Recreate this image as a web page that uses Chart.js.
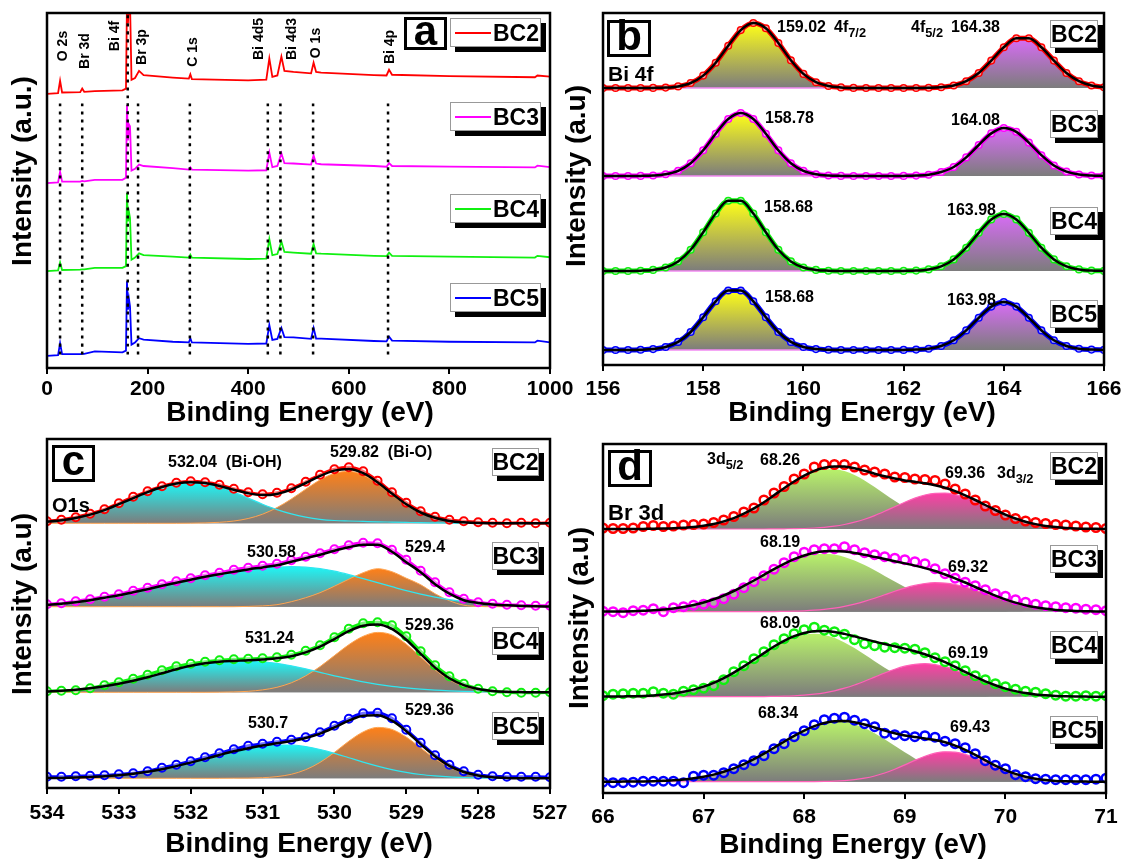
<!DOCTYPE html>
<html>
<head>
<meta charset="utf-8">
<script src="https://cdn.jsdelivr.net/npm/chart.js@4.4.1/dist/chart.umd.min.js"></script>
<style>
  body { margin: 0; background: #fff; }
  #fig { position: relative; width: 1123px; height: 862px; overflow: hidden;
         font-family: "Liberation Sans", Arial, sans-serif; font-weight: bold; color: #000; }
  canvas { position: absolute; }
  .t { position: absolute; white-space: nowrap; line-height: 1; z-index: 5; }
  .c { transform: translate(-50%, -50%); }
  .l { transform: translateY(-50%); }
  .r { transform: translate(-50%, -50%) rotate(-90deg); }
  .box { position: absolute; border: 3px solid #000; box-sizing: border-box; background: #fff;
         display: flex; align-items: center; justify-content: center; z-index: 5; line-height: 1; }
  .leg { position: absolute; background: #fff; border: 1px solid #999; box-sizing: border-box;
         box-shadow: 5px 5px 0 #000; font-size: 23px; z-index: 5; }
  .leg span { position: absolute; top: 50%; transform: translateY(-50%); line-height: 1; }
  .leg i { position: absolute; left: 4px; top: 50%; width: 36px; height: 2px; margin-top: -1px; }
  sub { font-size: 0.8em; vertical-align: -0.4em; line-height: 0; }
</style>
</head>
<body>
<div id="fig"></div>
<script>
// ---------- (a) survey spectra ----------
const surveyEnergy = [0, 22, 26, 30, 66, 70, 74, 95, 150, 157, 159, 161, 163, 165, 168, 175, 183, 192, 250, 282, 285, 288,
  400, 436, 442, 448, 458, 466, 472, 490, 525, 530, 535, 545, 650, 675, 680, 686, 800, 970, 975, 1000];
const surveyBC2 = [0, 0.2, 3.7, 0.4, 0.5, 1.5, 0.6, 0.8, 1.0, 1.5, 26, 20, 26, 26, 4, 4.5, 6.5, 5.3, 4.6, 4.3, 5.5, 4.2,
  3.8, 4, 10, 4.8, 5.2, 10.5, 6.5, 6.2, 5.8, 8.8, 6.2, 6.0, 5.3, 5.2, 6.8, 5.4, 5.0, 4.7, 5.2, 4.9];
const surveyBC3 = [0, 0.2, 3.2, 0.4, 0.4, 0.6, 0.5, 0.9, 0.9, 1.5, 22, 12, 16.5, 16, 3.5, 4, 5.2, 4.8, 4.2, 3.8, 4.4, 3.8,
  3.5, 3.6, 8.6, 4.5, 4.8, 8.4, 5.6, 5.5, 5.2, 7.8, 5.5, 5.3, 4.8, 4.6, 5.6, 4.8, 4.6, 4.4, 4.9, 4.5];
const surveyBC4 = [0, 0.2, 2.4, 0.3, 0.4, 0.5, 0.5, 0.9, 0.9, 1.4, 22, 14, 16.6, 15, 3.2, 3.8, 5, 4.5, 4.1, 3.8, 4.6, 3.8,
  3.4, 3.5, 9, 4.5, 4.8, 8.3, 5.4, 5.2, 4.9, 7.6, 5.0, 4.9, 4.3, 4.2, 5.2, 4.3, 4.1, 3.8, 4.3, 3.9];
const surveyBC5 = [0, 0.2, 3.6, 0.5, 0.5, 0.6, 0.6, 1.3, 1.0, 1.5, 21, 13, 16, 14, 3.2, 3.8, 5, 4.6, 4.0, 3.8, 5.0, 3.8,
  3.4, 3.5, 8.7, 4.5, 4.8, 7.9, 5.3, 5.2, 4.8, 7.9, 4.9, 4.9, 4.2, 4.1, 5.4, 4.3, 4.0, 3.8, 4.3, 3.8];
const surveyPeakEnergy = [26, 70, 160.5, 181, 284, 439, 464, 529, 678];
const surveyPeakNames = ["O 2s", "Br 3d", "Bi 4f", "Br 3p", "C 1s", "Bi 4d5", "Bi 4d3", "O 1s", "Bi 4p"];

// ---------- (b) Bi 4f ----------
const bi4fEnergy = [156, 156.25, 156.5, 156.75, 157, 157.25, 157.5, 157.75, 158, 158.25, 158.5, 158.75, 159, 159.25,
  159.5, 159.75, 160, 160.25, 160.5, 160.75, 161, 161.25, 161.5, 161.75, 162, 162.25, 162.5, 162.75, 163, 163.25,
  163.5, 163.75, 164, 164.25, 164.5, 164.75, 165, 165.25, 165.5, 165.75, 166];
const bc2Bi4f72 = [0, 0, 0, 0, 0.1, 0.4, 1.6, 5.0, 12.4, 25.3, 42.2, 57.9, 65.0, 59.8, 45.0, 27.8, 14.1, 5.8, 2.0, 0.6, 0.1,
  0, 0, 0, 0, 0, 0, 0, 0, 0, 0, 0, 0, 0, 0, 0, 0, 0, 0, 0, 0];
const bc2Bi4f52 = [0, 0, 0, 0, 0, 0, 0, 0, 0, 0, 0, 0, 0, 0, 0, 0, 0, 0, 0, 0, 0, 0, 0, 0, 0, 0,
  0.2, 0.8, 2.5, 6.8, 15.0, 27.4, 40.7, 49.7, 49.7, 40.7, 27.4, 15.0, 6.8, 2.5, 0.8];
const bc3Bi4f72 = [0, 0, 0, 0.1, 0.5, 1.8, 5.2, 12.8, 25.7, 42.3, 57.0, 63.0, 57.0, 42.3, 25.7, 12.8, 5.2, 1.8, 0.5, 0.1,
  0, 0, 0, 0, 0, 0, 0, 0, 0, 0, 0, 0, 0, 0, 0, 0, 0, 0, 0, 0, 0];
const bc3Bi4f52 = [0, 0, 0, 0, 0, 0, 0, 0, 0, 0, 0, 0, 0, 0, 0, 0, 0, 0, 0, 0, 0, 0, 0, 0,
  0.1, 0.4, 1.3, 4.0, 9.0, 18.6, 31.0, 42.6, 48.0, 44.2, 33.4, 20.8, 10.5, 4.4, 1.5, 0.5, 0.1];
const bc4Bi4f72 = [0, 0, 0, 0.3, 1.1, 3.5, 9.6, 21.2, 38.7, 57.5, 70.2, 70.2, 57.5, 38.7, 21.2, 9.6, 3.5, 1.1, 0.3,
  0, 0, 0, 0, 0, 0, 0, 0, 0, 0, 0, 0, 0, 0, 0, 0, 0, 0, 0, 0, 0, 0];
const bc4Bi4f52 = [0, 0, 0, 0, 0, 0, 0, 0, 0, 0, 0, 0, 0, 0, 0, 0, 0, 0, 0, 0, 0, 0, 0, 0,
  0.1, 0.4, 1.6, 4.7, 11.6, 23.3, 38.2, 51.6, 57.0, 51.6, 38.2, 23.3, 11.6, 4.7, 1.6, 0.4, 0.1];
const bc5Bi4f72 = [0, 0, 0, 0.2, 0.9, 3.0, 8.1, 18.0, 32.8, 48.7, 59.5, 59.5, 48.7, 32.8, 18.0, 8.1, 3.0, 0.9, 0.2,
  0, 0, 0, 0, 0, 0, 0, 0, 0, 0, 0, 0, 0, 0, 0, 0, 0, 0, 0, 0, 0, 0];
const bc5Bi4f52 = [0, 0, 0, 0, 0, 0, 0, 0, 0, 0, 0, 0, 0, 0, 0, 0, 0, 0, 0, 0, 0, 0, 0, 0,
  0.1, 0.4, 1.3, 4.0, 9.7, 19.6, 32.2, 43.4, 48.0, 43.4, 32.2, 19.6, 9.7, 4.0, 1.3, 0.4, 0.1];

// ---------- (c) O 1s ----------
const o1sEnergy = [534, 533.8, 533.6, 533.4, 533.2, 533, 532.8, 532.6, 532.4, 532.2, 532, 531.8, 531.6, 531.4, 531.2,
  531, 530.8, 530.6, 530.4, 530.2, 530, 529.8, 529.6, 529.4, 529.2, 529, 528.8, 528.6, 528.4, 528.2, 528, 527.8,
  527.6, 527.4, 527.2, 527];
const bc2BiOH = [1.6, 3.0, 5.3, 8.7, 13.2, 19.1, 25.2, 31.2, 36.3, 39.8, 41.0, 39.8, 36.3, 31.2, 25.2, 19.1, 13.7, 9.4,
  6.2, 4.0, 2.8, 2.3, 1.9, 1.5, 1.2, 0.9, 0.6, 0.4, 0.2, 0.1, 0, 0, 0, 0, 0, 0];
const bc2BiO = [0, 0, 0, 0, 0, 0, 0, 0, 0, 0, 0.1, 0.4, 1.0, 2.3, 4.8, 9.1, 15.7, 24.3, 34.1, 43.4, 49.9, 52.0, 48.2,
  39.5, 28.5, 18.1, 10.2, 5.1, 2.2, 0.9, 0.3, 0.1, 0, 0, 0, 0];
const bc2O1s = [2, 3.5, 6, 9.5, 14, 20, 26.5, 32, 37, 40.5, 42, 41, 38.5, 34.5, 31, 29, 30.5, 35, 41.5, 48.5, 54, 56,
  52, 42.5, 31, 20.5, 12, 6.5, 3.5, 2, 1, 0.5, 0, 0.5, 0, 0.5];
const bc3BiOH = [1.7, 3.0, 4.5, 6.5, 9, 11.5, 14.5, 17.5, 21, 24, 27, 30, 32.5, 35, 37, 38.5, 39.5, 40, 39.5, 38, 35.5,
  32, 28, 24, 20, 16, 12.5, 9.5, 7, 5, 3.5, 2.3, 1.4, 0.8, 0.4, 0.2];
const bc3BiO = [0, 0, 0, 0, 0, 0, 0, 0, 0, 0, 0, 0, 0, 0, 0.3, 0.8, 2, 5, 9, 14, 20.5, 27.5, 34, 38, 35, 28.5, 22, 13,
  6, 1.5, 0.3, 0, 0, 0, 0, 0];
const bc3O1s = [2.5, 3.5, 5.5, 7.5, 10, 12.5, 16, 19, 22.5, 25.5, 28.5, 31.5, 34, 37, 39, 41, 43, 46.5, 50, 53.5, 57.5,
  61.5, 64, 63.5, 57, 47, 36, 24.5, 14.5, 8, 4.5, 3, 2, 1.5, 1, 1];
const bc4BiOH = [0.8, 1.5, 2.5, 4, 6, 8.5, 11.5, 15, 19, 23, 26.5, 29, 30.5, 31, 31, 30.5, 29, 26.5, 23.5, 20, 16.5,
  13.5, 10.5, 8, 6, 4.5, 3.2, 2.2, 1.5, 1, 0.6, 0.3, 0.2, 0.1, 0, 0];
const bc4BiO = [0, 0, 0, 0, 0, 0, 0, 0, 0, 0, 0, 0, 0.1, 0.4, 1.0, 2.4, 5.0, 9.5, 16.4, 25.7, 36.7, 47.6, 56.0, 59.9,
  57.4, 48.1, 35.2, 22.5, 12.5, 6.1, 2.6, 1.0, 0.3, 0.1, 0, 0];
const bc4O1s = [1, 1.5, 2, 4, 7, 10, 13.5, 17.5, 22, 26, 28.5, 30.5, 32, 33, 33.5, 34, 35, 37.5, 41.5, 47, 55, 63.5,
  69, 70, 67, 56, 41, 27, 16, 8.5, 3.5, 1, 0, -0.5, -0.5, 0];
const bc5BiOH = [0.2, 0.4, 0.8, 1.3, 2.0, 3.1, 4.6, 6.6, 9.1, 12.2, 15.7, 19.4, 23.3, 26.9, 29.9, 32.2, 33.3, 33.3,
  31.7, 28.8, 25.0, 20.6, 16.2, 12.2, 8.7, 5.9, 3.8, 2.4, 1.4, 0.8, 0.4, 0.2, 0.1, 0, 0, 0];
const bc5BiO = [0, 0, 0, 0, 0, 0, 0, 0, 0, 0, 0, 0, 0, 0.1, 0.2, 0.6, 1.7, 4.0, 8.6, 15.9, 25.9, 37.1, 46.4, 50.9, 48.9,
  41.2, 30.4, 19.7, 11.1, 5.5, 2.4, 0.9, 0.3, 0.1, 0, 0];
const bc5O1s = [1.5, 1.5, 2, 2.5, 3, 4, 5, 7, 10.5, 13.5, 17, 21, 25, 29, 32.5, 34.5, 36.5, 38.5, 41, 46, 52.5, 59.5,
  65, 65.5, 60, 48.5, 35.5, 23, 13.5, 7, 3.5, 2, 1.5, 1.5, 1.5, 1];

// ---------- (d) Br 3d ----------
const br3dEnergy = [66, 66.1, 66.2, 66.3, 66.4, 66.5, 66.6, 66.7, 66.8, 66.9, 67, 67.1, 67.2, 67.3, 67.4, 67.5, 67.6,
  67.7, 67.8, 67.9, 68, 68.1, 68.2, 68.3, 68.4, 68.5, 68.6, 68.7, 68.8, 68.9, 69, 69.1, 69.2, 69.3, 69.4, 69.5, 69.6,
  69.7, 69.8, 69.9, 70, 70.1, 70.2, 70.3, 70.4, 70.5, 70.6, 70.7, 70.8, 70.9, 71];
const bc2Br52 = [0, 0, 0, 0, 0.1, 0.2, 0.4, 0.7, 1.2, 1.9, 3.2, 5.0, 7.6, 10.9, 15.3, 20.6, 26.8, 33.6, 40.6, 47.2,
  52.9, 57.2, 59.6, 59.8, 57.9, 53.9, 48.5, 41.9, 35.0, 28.2, 21.8, 16.3, 11.7, 8.1, 5.4, 3.5, 2.1, 1.3, 0.8, 0.4,
  0.2, 0.1, 0, 0, 0, 0, 0, 0, 0, 0, 0];
const bc2Br32 = [0, 0, 0, 0, 0, 0, 0, 0, 0, 0, 0, 0, 0, 0, 0, 0, 0, 0.1, 0.2, 0.3,
  0.5, 1.0, 1.7, 2.8, 4.5, 6.8, 9.7, 13.4, 17.7, 22.3, 26.8, 30.9, 34.0, 35.7, 35.9, 34.4, 31.6, 27.7, 23.2, 18.6,
  14.2, 10.4, 7.3, 4.9, 3.1, 1.9, 1.1, 0.6, 0.3, 0.2, 0.1];
const bc2Br3d = [1, 0.5, 0.5, 1, 2.5, 3.5, 2.5, 3, 4, 4.5, 5, 6.5, 9, 12.5, 17, 21, 29, 36, 42.5, 50,
  55, 62, 64.5, 64.5, 64.5, 62, 59, 57, 55, 52, 51.5, 50, 49.5, 48.5, 45, 40, 35, 29, 23, 18.5,
  14, 10.5, 8, 6.5, 5.5, 4.5, 4, 3, 2, 1.5, 0.5];
const bc3Br52 = [0.1, 0.2, 0.3, 0.5, 0.9, 1.4, 2.2, 3.2, 4.7, 6.7, 9.2, 12.4, 16.2, 20.7, 25.8, 31.2, 36.9, 42.5, 47.6,
  52.0, 55.3, 57.4, 58.0, 57.1, 54.8, 51.2, 46.6, 41.4, 35.8, 30.1, 24.7, 19.8, 15.4, 11.7, 8.6, 6.2, 4.4, 3.0, 2.0,
  1.3, 0.8, 0.5, 0.3, 0.2, 0.1, 0, 0, 0, 0, 0, 0];
const bc3Br32 = [0, 0, 0, 0, 0, 0, 0, 0, 0, 0, 0, 0, 0, 0, 0, 0, 0, 0.1, 0.3, 0.5,
  0.9, 1.5, 2.4, 3.6, 5.3, 7.6, 10.3, 13.4, 16.9, 20.4, 23.6, 26.3, 28.2, 29.0, 28.6, 27.2, 24.8, 21.7, 18.3, 14.8,
  11.5, 8.6, 6.2, 4.2, 2.8, 1.8, 1.1, 0.6, 0.4, 0.2, 0.1];
const bc3Br3d = [0.5, 0, -1, 1, 1.5, 3, 0, 4, 5, 6.5, 7.5, 9, 13, 17.5, 24, 30, 36, 42.5, 49, 55,
  59.5, 62, 63, 63, 65, 62, 59, 57, 55, 53.5, 52, 50, 48, 43, 38, 33.5, 29.5, 26, 22, 18,
  15.5, 12, 9.5, 7.5, 6, 5, 4, 3.5, 2.5, 2, 1];
const bc4Br52 = [0.1, 0.1, 0.3, 0.5, 0.8, 1.3, 2.1, 3.2, 4.9, 7.1, 10.1, 13.9, 18.6, 24.1, 30.3, 36.9, 43.5, 49.9, 55.4,
  59.6, 62.2, 63.0, 61.8, 58.9, 54.3, 48.6, 42.2, 35.5, 29.0, 23.0, 17.6, 13.1, 9.5, 6.6, 4.5, 3.0, 1.9, 1.2, 0.7,
  0.4, 0.2, 0.1, 0, 0, 0, 0, 0, 0, 0, 0, 0];
const bc4Br32 = [0, 0, 0, 0, 0, 0, 0, 0, 0, 0, 0, 0, 0, 0, 0, 0, 0.1, 0.3, 0.5, 0.9,
  1.5, 2.5, 3.9, 5.9, 8.5, 11.7, 15.5, 19.6, 23.7, 27.5, 30.5, 32.4, 33.0, 32.1, 30.0, 26.8, 22.9, 18.8, 14.7, 11.1,
  7.9, 5.5, 3.6, 2.3, 1.4, 0.8, 0.4, 0.2, 0.1, 0, 0];
const bc4Br3d = [1, 2.5, 3, 3.5, 3.5, 5, 3.5, 2.5, 5.5, 7, 8.5, 11, 17, 25, 31, 38, 45, 52, 58, 63,
  67, 69.5, 66.5, 65, 62.5, 57, 53, 51, 49.5, 49, 48.5, 47.5, 44, 39, 35, 31, 26, 21, 17, 13,
  10, 7.5, 5.5, 4.5, 3, 1.5, 0.5, 0.5, 1, 0.5, 1];
const bc5Br52 = [0, 0, 0.1, 0.2, 0.3, 0.5, 0.9, 1.4, 2.2, 3.4, 5.0, 7.1, 9.9, 13.4, 17.6, 22.5, 28.0, 34.0, 40.0, 45.9,
  51.1, 55.4, 58.4, 59.9, 59.6, 57.5, 53.7, 48.5, 42.4, 35.9, 29.4, 23.3, 17.8, 13.2, 9.5, 6.6, 4.4, 2.9, 1.8, 1.1,
  0.6, 0.4, 0.2, 0.1, 0, 0, 0, 0, 0, 0, 0];
const bc5Br32 = [0, 0, 0, 0, 0, 0, 0, 0, 0, 0, 0, 0, 0, 0, 0, 0, 0, 0, 0, 0, 0,
  0.1, 0.3, 0.6, 1.1, 2.0, 3.5, 5.7, 8.7, 12.5, 16.8, 21.3, 25.4, 28.5, 29.9, 29.5, 27.4, 23.9, 19.6, 15.0,
  10.9, 7.4, 4.7, 2.8, 1.6, 0.8, 0.4, 0.2, 0.1, 0, 0];
const bc5Br3d = [-0.5, -1, -1, -0.5, 0.5, 0.5, 0.5, 0.5, -1, 5.5, 6.5, 6.5, 9, 13, 17, 21, 26, 33, 38, 45,
  51, 57, 62, 63.5, 64.5, 61.5, 58, 55, 48.5, 47, 46, 45, 46, 44.5, 40.5, 38, 34, 28, 21, 16.5,
  13, 7, 5, 3, 2.5, 2, 2, 2, 2, 2.5, 3.5];

const samples = ["BC2", "BC3", "BC4", "BC5"];
const sampleColors = ["#ff0000", "#ff00ff", "#10f010", "#0000ff"];

// ---------- helpers ----------
const fig = document.getElementById("fig");
Chart.defaults.font.family = '"Liberation Sans", Arial, sans-serif';

function pts(xs, ys, off) {
  return xs.map((x, i) => ({ x: x, y: ys[i] + off }));
}
function sumOf(a, b) {
  return a.map((v, i) => v + b[i]);
}
// vertical gradient: peak colour at the top of the component, grey at its baseline
function grad(color, off, arr) {
  const top = off + Math.max(...arr);
  return (c) => {
    const chart = c.chart;
    if (!chart.chartArea) return color;
    const y = chart.scales.y;
    const g = chart.ctx.createLinearGradient(0, y.getPixelForValue(top), 0, y.getPixelForValue(off));
    g.addColorStop(0, color);
    g.addColorStop(1, "#7c7c7c");
    return g;
  };
}

const framePlugin = {
  id: "frame",
  afterDraw(chart) {
    const { ctx, chartArea: a } = chart;
    ctx.save();
    ctx.strokeStyle = "#000";
    ctx.lineWidth = 2.5;
    ctx.strokeRect(a.left, a.top, a.right - a.left, a.bottom - a.top);
    ctx.restore();
  }
};

function makePanel(frame, xs, yMax, tickPad, datasets) {
  const cv = document.createElement("canvas");
  const W = frame.w + 60, H = frame.h + 50;
  cv.width = W; cv.height = H;
  cv.style.left = (frame.x - 30) + "px";
  cv.style.top = (frame.y - 10) + "px";
  cv.style.width = W + "px";
  cv.style.height = H + "px";
  fig.appendChild(cv);
  return new Chart(cv, {
    type: "line",
    data: { datasets: datasets },
    options: {
      responsive: false,
      animation: false,
      devicePixelRatio: 1,
      layout: { padding: { left: 30, right: 30, top: 10, bottom: 0 } },
      plugins: { legend: { display: false }, tooltip: { enabled: false } },
      elements: { line: { cubicInterpolationMode: "monotone" } },
      scales: {
        x: {
          type: "linear", min: xs.min, max: xs.max, reverse: !!xs.reverse,
          ticks: { stepSize: xs.step, autoSkip: false, maxRotation: 0, color: "#000", padding: tickPad,
                   font: { size: 21, weight: "bold" }, callback: (v) => String(v) },
          grid: { drawOnChartArea: false, drawTicks: true, tickLength: 6, color: "#000", lineWidth: 2 },
          border: { display: false },
          afterFit: (s) => { s.height = 40; }
        },
        y: { display: false, min: 0, max: yMax }
      }
    },
    plugins: [framePlugin]
  });
}

function txt(html, x, y, size, cls) {
  const d = document.createElement("div");
  d.className = "t " + cls;
  d.style.left = x + "px";
  d.style.top = y + "px";
  d.style.fontSize = size + "px";
  d.innerHTML = html;
  fig.appendChild(d);
}
function letterBox(ch, x, y, w, h) {
  const d = document.createElement("div");
  d.className = "box";
  Object.assign(d.style, { left: x + "px", top: y + "px", width: w + "px", height: h + "px", fontSize: "42px" });
  d.innerHTML = '<span style="margin-top:-6px">' + ch + "</span>";
  fig.appendChild(d);
}
function legendBox(name, x, y, w, h, lineColor) {
  const d = document.createElement("div");
  d.className = "leg";
  Object.assign(d.style, { left: x + "px", top: y + "px", width: w + "px", height: h + "px" });
  if (lineColor) {
    d.innerHTML = '<i style="background:' + lineColor + '"></i><span style="left:42px">' + name + "</span>";
  } else {
    d.innerHTML = '<span style="left:50%;transform:translate(-50%,-50%)">' + name + "</span>";
  }
  fig.appendChild(d);
}

// ---------- panel a ----------
const surveySeries = [surveyBC2, surveyBC3, surveyBC4, surveyBC5];
const surveyOffsets = [77.2, 52.1, 27.3, 3.4];
const aSets = [];
surveyPeakEnergy.forEach((e, i) => {
  aSets.push({ data: [{ x: e, y: 3.8 }, { x: e, y: i === 2 ? 100 : 76 }], borderColor: "#000", borderWidth: 2.5,
               borderDash: [3, 5], pointRadius: 0, order: 0 });
});
surveySeries.forEach((s, i) => {
  aSets.push({ data: pts(surveyEnergy, s, surveyOffsets[i]), borderColor: sampleColors[i], borderWidth: 1.8,
               pointRadius: 0, cubicInterpolationMode: "default", tension: 0, order: 1 });
});
makePanel({ x: 47, y: 13, w: 503, h: 355 }, { min: 0, max: 1000, step: 200 }, 100, 3, aSets);

// ---------- panel b ----------
const bi4fPeaks = [[bc2Bi4f72, bc2Bi4f52], [bc3Bi4f72, bc3Bi4f52], [bc4Bi4f72, bc4Bi4f52], [bc5Bi4f72, bc5Bi4f52]];
const bOffsets = [277, 189, 94, 15];
const bSets = [];
bi4fPeaks.forEach((p, i) => {
  const off = bOffsets[i];
  const env = sumOf(p[0], p[1]);
  bSets.push({ data: pts(bi4fEnergy, p[0], off), fill: { value: off }, backgroundColor: grad("#ffff18", off, p[0]),
               borderWidth: 0, pointRadius: 0, order: 4 });
  bSets.push({ data: pts(bi4fEnergy, p[1], off), fill: { value: off }, backgroundColor: grad("#d86cf6", off, p[1]),
               borderColor: "#f28af2", borderWidth: 1.3, pointRadius: 0, order: 3 });
  bSets.push({ data: pts(bi4fEnergy, env, off), borderColor: sampleColors[i], borderWidth: 5, pointRadius: 3.3,
               pointBorderWidth: 1.5, pointBorderColor: sampleColors[i], pointBackgroundColor: "rgba(255,255,255,0.6)",
               order: 1 });
  bSets.push({ data: pts(bi4fEnergy, env, off), borderColor: "#000", borderWidth: 2.5, pointRadius: 0, order: 0 });
});
makePanel({ x: 603, y: 13, w: 501, h: 352 }, { min: 156, max: 166, step: 2 }, 352, 6, bSets);

// ---------- panel c ----------
const o1sPeaks = [[bc2BiOH, bc2BiO, bc2O1s], [bc3BiOH, bc3BiO, bc3O1s], [bc4BiOH, bc4BiO, bc4O1s], [bc5BiOH, bc5BiO, bc5O1s]];
const cOffsets = [264.7, 181.3, 95.7, 9.7];
const cSets = [];
o1sPeaks.forEach((p, i) => {
  const off = cOffsets[i];
  cSets.push({ data: pts(o1sEnergy, p[0], off), fill: { value: off }, backgroundColor: grad("#1ef6f6", off, p[0]),
               borderWidth: 0, pointRadius: 0, order: 4 });
  cSets.push({ data: pts(o1sEnergy, p[1], off), fill: { value: off }, backgroundColor: grad("#ff8018", off, p[1]),
               borderColor: "#ffa450", borderWidth: 1, pointRadius: 0, order: 3 });
  cSets.push({ data: pts(o1sEnergy, p[0], off), borderColor: "#30e6f0", borderWidth: 1.2, pointRadius: 0, order: 2 });
  cSets.push({ data: pts(o1sEnergy, p[2], off), borderColor: sampleColors[i], borderWidth: 3, pointRadius: 4,
               pointBorderWidth: 2, pointBorderColor: sampleColors[i], pointBackgroundColor: "rgba(255,255,255,0.45)",
               order: 1 });
  cSets.push({ data: pts(o1sEnergy, sumOf(p[0], p[1]), off), borderColor: "#000", borderWidth: 2.5, pointRadius: 0,
               order: 0 });
});
makePanel({ x: 47, y: 439, w: 503, h: 349 }, { min: 527, max: 534, step: 1, reverse: true }, 349, 7, cSets);

// ---------- panel d ----------
const br3dPeaks = [[bc2Br52, bc2Br32, bc2Br3d], [bc3Br52, bc3Br32, bc3Br3d], [bc4Br52, bc4Br32, bc4Br3d], [bc5Br52, bc5Br32, bc5Br3d]];
const dOffsets = [264, 181.3, 96.3, 11.3];
const dSets = [];
br3dPeaks.forEach((p, i) => {
  const off = dOffsets[i];
  dSets.push({ data: pts(br3dEnergy, p[0], off), fill: { value: off }, backgroundColor: grad("#b8f26a", off, p[0]),
               borderWidth: 0, pointRadius: 0, order: 4 });
  dSets.push({ data: pts(br3dEnergy, p[1], off), fill: { value: off }, backgroundColor: grad("#ff3fa6", off, p[1]),
               borderColor: "#ff62b8", borderWidth: 1.2, pointRadius: 0, order: 3 });
  dSets.push({ data: pts(br3dEnergy, p[2], off), showLine: false, pointRadius: 4.3, pointBorderWidth: 2.5,
               pointBorderColor: sampleColors[i], pointBackgroundColor: "rgba(255,255,255,0.3)", order: 1 });
  dSets.push({ data: pts(br3dEnergy, sumOf(p[0], p[1]), off), borderColor: "#000", borderWidth: 2.5, pointRadius: 0,
               order: 0 });
});
makePanel({ x: 603, y: 444, w: 503, h: 349 }, { min: 66, max: 71, step: 1 }, 349, 6, dSets);

// ---------- text, boxes, legends ----------
txt("Intensity (a.u.)", 22, 171, 28, "r");
txt("Intensity (a.u)", 576, 176, 28, "r");
txt("Intensity (a.u)", 22, 604, 28, "r");
txt("Intensity (a.u)", 579, 618, 28, "r");
txt("Binding Energy (eV)", 300, 412, 28, "c");
txt("Binding Energy (eV)", 862, 412, 28, "c");
txt("Binding Energy (eV)", 299, 843, 28, "c");
txt("Binding Energy (eV)", 853, 844, 28, "c");

const peakLabelX = [61.5, 83.5, 114, 141, 192, 258, 291, 315, 388.5];
const peakLabelY = [46, 50.5, 36, 46.5, 52, 39, 38.5, 43, 46.5];
surveyPeakNames.forEach((n, i) => txt(n, peakLabelX[i], peakLabelY[i], 14, "r"));

letterBox("a", 404, 17, 43, 33);
letterBox("b", 607, 20, 44, 37);
letterBox("c", 52, 445, 43, 37);
letterBox("d", 608, 450, 44, 37);

[18, 102, 194, 283].forEach((y, i) => legendBox(samples[i], 450, y, 91, 29, sampleColors[i]));
[20, 110, 207, 300].forEach((y, i) => legendBox(samples[i], 1050, y, 48, 28));
[448, 542, 627, 712].forEach((y, i) => legendBox(samples[i], 492, y, 47, 28));
[452, 545, 631, 716].forEach((y, i) => legendBox(samples[i], 1050, y, 48, 28));

txt("Bi 4f", 608, 73, 21, "l");
txt("159.02", 777, 27, 16, "l");
txt("4f<sub>7/2</sub>", 834, 27, 16, "l");
txt("4f<sub>5/2</sub>", 911, 27, 16, "l");
txt("164.38", 951, 27, 16, "l");
txt("158.78", 765, 118, 16, "l");
txt("164.08", 951, 120, 16, "l");
txt("158.68", 764, 207, 16, "l");
txt("163.98", 947, 210, 16, "l");
txt("158.68", 765, 297, 16, "l");
txt("163.98", 947, 300, 16, "l");

txt("O1s", 52, 505, 20, "l");
txt("532.04&nbsp;&nbsp;(Bi-OH)", 168, 462, 16, "l");
txt("529.82&nbsp;&nbsp;(Bi-O)", 330, 452, 16, "l");
txt("530.58", 247, 552, 16, "l");
txt("529.4", 405, 547, 16, "l");
txt("531.24", 245, 638, 16, "l");
txt("529.36", 405, 625, 16, "l");
txt("530.7", 248, 723, 16, "l");
txt("529.36", 405, 710, 16, "l");

txt("Br 3d", 608, 513, 22, "l");
txt("3d<sub>5/2</sub>", 707, 459, 16, "l");
txt("68.26", 760, 460, 16, "l");
txt("69.36", 945, 473, 16, "l");
txt("3d<sub>3/2</sub>", 997, 473, 16, "l");
txt("68.19", 760, 542, 16, "l");
txt("69.32", 948, 567, 16, "l");
txt("68.09", 760, 623, 16, "l");
txt("69.19", 948, 653, 16, "l");
txt("68.34", 758, 713, 16, "l");
txt("69.43", 950, 727, 16, "l");
</script>
</body>
</html>
